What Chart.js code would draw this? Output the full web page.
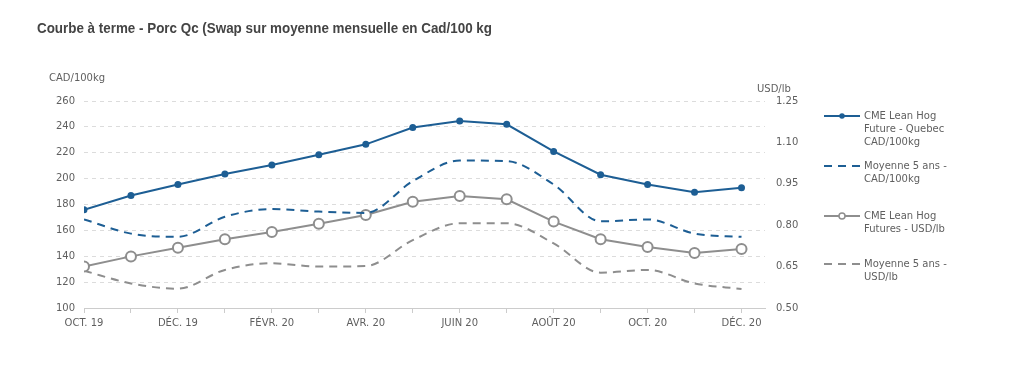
<!DOCTYPE html>
<html>
<head>
<meta charset="utf-8">
<script src="https://cdn.jsdelivr.net/npm/chart.js@4.4.0/dist/chart.umd.min.js"></script>
<style>
  html, body { margin: 0; padding: 0; background: #fff; }
  #wrap { width: 1024px; height: 372px; position: relative; }
</style>
</head>
<body>
<div id="wrap"><canvas id="c" width="1024" height="372"></canvas></div>
<script>
const mois = ["OCT. 19", "NOV. 19", "DÉC. 19", "JANV. 20", "FÉVR. 20", "MARS 20", "AVR. 20", "MAI 20",
  "JUIN 20", "JUIL. 20", "AOÛT 20", "SEPT. 20", "OCT. 20", "NOV. 20", "DÉC. 20"];
const cmeQuebecCad = [176, 187, 195.5, 203.5, 210.5, 218.5, 226.5, 239.5, 244.5, 242, 221, 203, 195.5, 189.5, 193];
const moyenneCad = [168.5, 157.5, 155, 170.5, 176.5, 174.5, 173.5, 198, 214, 213.5, 195.5, 167, 168.5, 157.5, 155];
const cmeUsd = [0.65, 0.687, 0.718, 0.749, 0.775, 0.805, 0.837, 0.885, 0.906, 0.894, 0.813, 0.749, 0.721, 0.699, 0.714];
const moyenneUsd = [0.635, 0.589, 0.57, 0.638, 0.662, 0.65, 0.652, 0.746, 0.807, 0.807, 0.734, 0.628, 0.638, 0.589, 0.569];
const cadTicks = [100, 120, 140, 160, 180, 200, 220, 240, 260];
const usdTicks = [0.50, 0.65, 0.80, 0.95, 1.10, 1.25];

const titre = "Courbe à terme - Porc Qc (Swap sur moyenne mensuelle en Cad/100 kg";
const legendes = [
  ["CME Lean Hog", "Future - Quebec", "CAD/100kg"],
  ["Moyenne 5 ans -", "CAD/100kg"],
  ["CME Lean Hog", "Futures - USD/lb"],
  ["Moyenne 5 ans -", "USD/lb"]
];

const BLEU = "#1d5e94";
const GRIS = "#8e8e8e";
const TXT = "#5f5f5f";
const FONT = "'DejaVu Sans', Verdana, sans-serif";

const pts = (arr) => arr.map((v, i) => ({ x: i, y: v }));

// legende + titres dessines a la main
const decorPlugin = {
  id: "decor",
  afterDraw(chart) {
    const ctx = chart.ctx;
    ctx.save();
    ctx.fillStyle = "#444";
    ctx.font = "bold 15px 'Liberation Sans', Arial, sans-serif";
    ctx.textBaseline = "alphabetic";
    const w = ctx.measureText(titre).width;
    ctx.save();
    ctx.translate(37, 33);
    ctx.scale(455 / w, 1);
    ctx.fillText(titre, 0, 0);
    ctx.restore();

    ctx.fillStyle = TXT;
    ctx.font = "10px " + FONT;
    ctx.textBaseline = "middle";
    ctx.fillText("CAD/100kg", 49, 78);
    ctx.fillText("USD/lb", 757, 89);

    const ys = [116, 166, 216, 264];
    chart.data.datasets.forEach((ds, k) => {
      const y = ys[k];
      ctx.strokeStyle = ds.borderColor;
      ctx.lineWidth = 2;
      ctx.setLineDash(ds.borderDash || []);
      ctx.beginPath();
      ctx.moveTo(824, y);
      ctx.lineTo(860, y);
      ctx.stroke();
      ctx.setLineDash([]);
      if (ds.pointRadius > 0) {
        ctx.beginPath();
        ctx.arc(842, y, k === 0 ? 2 : 3, 0, Math.PI * 2);
        ctx.fillStyle = ds.pointBackgroundColor;
        ctx.fill();
        ctx.lineWidth = 1.5;
        ctx.strokeStyle = ds.borderColor;
        ctx.stroke();
      }
      ctx.fillStyle = TXT;
      legendes[k].forEach((l, j) => ctx.fillText(l, 864, y + j * 13));
    });
    ctx.restore();
  }
};

new Chart(document.getElementById("c"), {
  type: "line",
  data: {
    datasets: [
      {
        label: legendes[0].join(" "),
        data: pts(cmeQuebecCad),
        yAxisID: "y",
        borderColor: BLEU,
        backgroundColor: BLEU,
        pointBackgroundColor: BLEU,
        borderWidth: 2,
        pointRadius: 3.5,
        pointBorderWidth: 0,
        tension: 0
      },
      {
        label: legendes[1].join(" "),
        data: pts(moyenneCad),
        yAxisID: "y",
        borderColor: BLEU,
        borderWidth: 2,
        borderDash: [8, 6],
        pointRadius: 0,
        cubicInterpolationMode: "monotone"
      },
      {
        label: legendes[2].join(" "),
        data: pts(cmeUsd),
        yAxisID: "y1",
        borderColor: GRIS,
        pointBackgroundColor: "#fff",
        borderWidth: 2,
        pointRadius: 5,
        pointBorderWidth: 2,
        tension: 0
      },
      {
        label: legendes[3].join(" "),
        data: pts(moyenneUsd),
        yAxisID: "y1",
        borderColor: GRIS,
        borderWidth: 2,
        borderDash: [8, 6],
        pointRadius: 0,
        cubicInterpolationMode: "monotone"
      }
    ]
  },
  options: {
    responsive: false,
    animation: false,
    layout: { padding: { left: 0, right: 214, top: 101, bottom: 34 } },
    plugins: { legend: { display: false }, tooltip: { enabled: false } },
    scales: {
      x: {
        type: "linear",
        min: 0,
        max: mois.length - 0.5,
        afterFit: (s) => { s.height = 30; },
        ticks: {
          stepSize: 1,
          includeBounds: false,
          autoSkip: false,
          maxRotation: 0,
          padding: 4,
          color: TXT,
          font: { family: FONT, size: 10 },
          callback: (v) => (v % 2 === 0 ? mois[v] : "")
        },
        grid: { drawOnChartArea: false, drawTicks: true, tickLength: 5, color: "#ccc" },
        border: { display: true, color: "#ccc", width: 1 }
      },
      y: {
        position: "left",
        min: cadTicks[0],
        max: cadTicks[cadTicks.length - 1],
        afterFit: (s) => { s.width = 84; },
        afterBuildTicks: (s) => { s.ticks = cadTicks.map((v) => ({ value: v })); },
        ticks: { color: TXT, padding: 9, font: { family: FONT, size: 10 } },
        grid: {
          drawTicks: false,
          color: (c) => (c.tick && c.tick.value === cadTicks[0] ? "rgba(0,0,0,0)" : "#dcdcdc")
        },
        border: { display: false, dash: [4, 4] }
      },
      y1: {
        position: "right",
        min: usdTicks[0],
        max: usdTicks[usdTicks.length - 1],
        afterFit: (s) => { s.width = 45; },
        afterBuildTicks: (s) => { s.ticks = usdTicks.map((v) => ({ value: v })); },
        ticks: {
          color: TXT,
          padding: 11,
          font: { family: FONT, size: 10 },
          callback: (v) => Number(v).toFixed(2)
        },
        grid: { drawOnChartArea: false, drawTicks: false },
        border: { display: false }
      }
    }
  },
  plugins: [decorPlugin]
});
</script>
</body>
</html>
